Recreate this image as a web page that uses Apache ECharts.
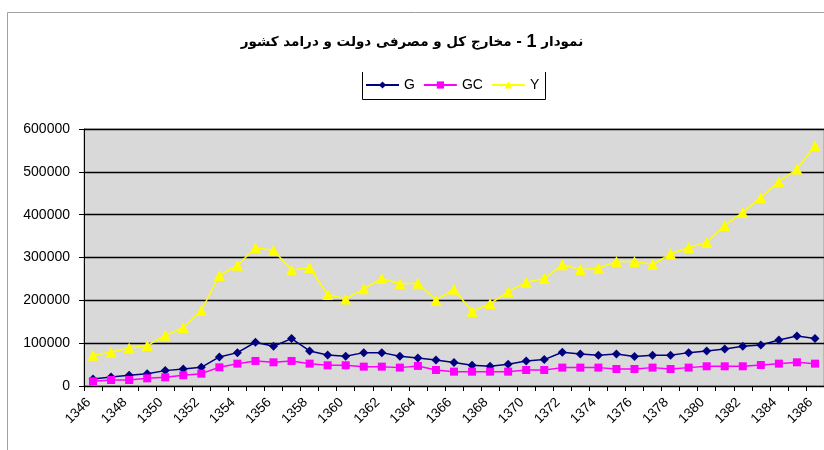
<!DOCTYPE html>
<html><head><meta charset="utf-8">
<script src="https://cdn.jsdelivr.net/npm/echarts@6/dist/echarts.min.js"></script>
<style>html,body{margin:0;padding:0;background:#fff}#c{width:824px;height:450px}</style>
</head><body><div id="c"></div>
<script>
const years = ['1346','1347','1348','1349','1350','1351','1352','1353','1354','1355','1356','1357','1358','1359','1360','1361','1362','1363','1364','1365','1366','1367','1368','1369','1370','1371','1372','1373','1374','1375','1376','1377','1378','1379','1380','1381','1382','1383','1384','1385','1386'];
const G  = [16400,21000,25000,28800,35900,39700,43600,67800,77900,102100,92700,110700,81800,72500,69400,77900,77900,69400,65600,60800,54600,48300,46000,50700,58500,61600,78700,74800,71700,74800,68600,71700,71700,77900,81800,86500,92700,95900,107600,116900,110700];
const GC = [10900,14000,14000,17900,20300,25000,28800,43600,52200,58500,55300,58500,52200,48300,48300,45200,45200,42900,46800,37400,33500,33500,33500,33500,37400,37400,42900,42900,42900,39700,39700,42900,39700,42900,46000,46000,46000,49100,52200,55300,52200];
const Y  = [71700,79000,88900,94300,118500,136400,176000,258000,282000,322700,317000,271000,276700,213500,203400,226800,251000,238500,240000,200300,226000,173800,192500,219800,242400,251000,283000,272000,275000,290700,290700,283700,308600,323500,335000,374900,405300,439600,477000,506600,561000];
const yTicks = [0,100000,200000,300000,400000,500000,600000];

const chart = echarts.init(document.getElementById('c'));
chart.setOption({
  animation: false,
  backgroundColor: '#fff',
  title: {
    text: '{a|مخارج کل و مصرفی دولت و درامد کشور}{a| - }{b|1}{a| نمودار}',
    left: 'center', top: 28,
    textStyle: {
      rich: {
        a: {fontFamily: 'DejaVu Sans', fontSize: 13.5, fontWeight: 'bold', color: '#000'},
        b: {fontFamily: 'Liberation Sans', fontSize: 18, fontWeight: 'bold', color: '#000'}
      }
    }
  },
  legend: {
    top: 78, left: 365, padding: 0,
    itemWidth: 33, itemHeight: 9, itemGap: 8,
    textStyle: {fontFamily: 'Liberation Sans', fontSize: 14, color: '#000'},
    data: ['G','GC','Y']
  },
  graphic: [
    {type: 'polyline', shape: {points: [[362.5,72],[362.5,99.5],[545.5,99.5],[545.5,72]]}, style: {stroke: '#000', lineWidth: 1, fill: null}},
    {type: 'polyline', shape: {points: [[7.5,450],[7.5,12.5],[824,12.5]]}, style: {stroke: '#a0a0a0', lineWidth: 1, fill: null}}
  ],
  grid: {left: 84, right: 0, top: 129, bottom: 64, show: true, backgroundColor: '#d9d9d9', borderColor: '#999', borderWidth: 1},
  xAxis: {
    type: 'category', data: years, boundaryGap: true,
    axisLine: {lineStyle: {color: '#000', width: 1}},
    axisTick: {show: true, interval: 0, length: 5, lineStyle: {color: '#000'}},
    axisLabel: {interval: 1, rotate: 45, fontFamily: 'Liberation Sans', fontSize: 13.5, color: '#000', margin: 10, padding: [0, 6, 0, 0]}
  },
  yAxis: {
    type: 'value', min: 0, max: 600000, interval: 100000,
    axisLine: {show: true, lineStyle: {color: '#000'}},
    axisTick: {show: true, length: 5, lineStyle: {color: '#000'}},
    axisLabel: {fontFamily: 'Liberation Sans', fontSize: 14, color: '#000', margin: 14,
      formatter: v => yTicks.indexOf(v) >= 0 ? String(v) : ''},
    splitLine: {lineStyle: {color: '#000', width: 1.3}}
  },
  series: [
    {name: 'G', type: 'line', data: G, symbol: 'diamond', symbolSize: 9,
     lineStyle: {color: '#000080', width: 1.5}, itemStyle: {color: '#000080'}},
    {name: 'GC', type: 'line', data: GC, symbol: 'rect', symbolSize: 8,
     lineStyle: {color: '#ff00ff', width: 1.5}, itemStyle: {color: '#ff00ff'}},
    {name: 'Y', type: 'line', data: Y, symbol: 'triangle', symbolSize: 11,
     lineStyle: {color: '#ffff00', width: 1.5}, itemStyle: {color: '#ffff00'}}
  ]
});
</script></body></html>
